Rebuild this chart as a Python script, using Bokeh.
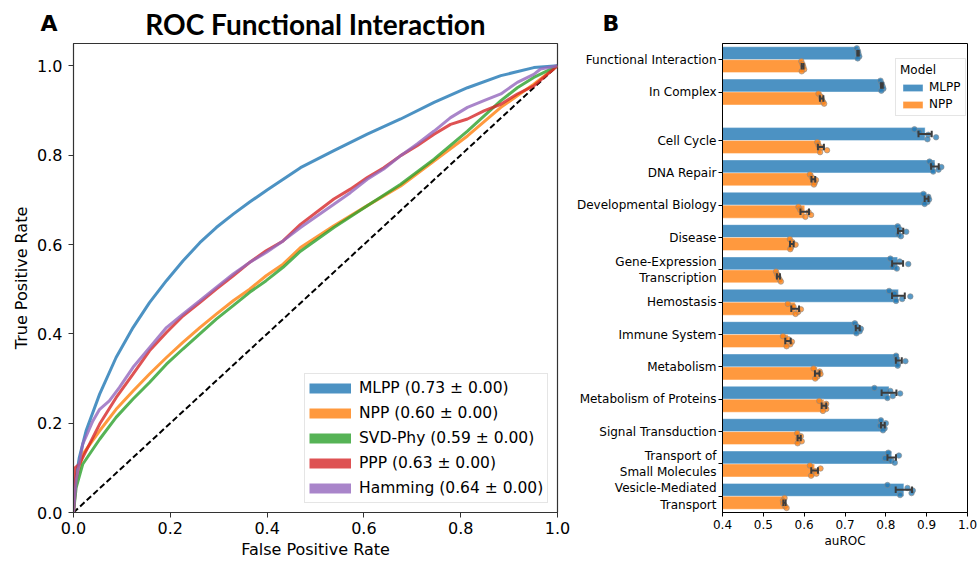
import numpy as np
from bokeh.plotting import figure
from bokeh.models import (Range1d, FixedTicker, Legend, LegendItem, Title,
                          PrintfTickFormatter)
from bokeh.layouts import row
from bokeh.embed import file_html
from bokeh.resources import INLINE

# ---------------- Panel A data: ROC curves ----------------
roc_labels = ["MLPP (0.73 \u00b1 0.00)", "NPP (0.60 \u00b1 0.00)", "SVD-Phy (0.59 \u00b1 0.00)",
              "PPP (0.63 \u00b1 0.00)", "Hamming (0.64 \u00b1 0.00)"]
roc_colors = ["#1f77b4", "#ff7f0e", "#2ca02c", "#d62728", "#9467bd"]

mlpp_fpr = [0, 0.004, 0.012, 0.026, 0.054, 0.088, 0.123, 0.157, 0.192, 0.226, 0.261, 0.295,
            0.330, 0.364, 0.40, 0.469, 0.538, 0.607, 0.676, 0.745, 0.814, 0.883, 0.951, 1.0]
mlpp_tpr = [0, 0.07, 0.123, 0.183, 0.265, 0.347, 0.414, 0.47, 0.519, 0.563, 0.604, 0.638,
            0.668, 0.695, 0.722, 0.772, 0.81, 0.847, 0.881, 0.918, 0.951, 0.978, 0.996, 1.0]

npp_fpr = [0, 0.0055, 0.019, 0.054, 0.088, 0.123, 0.157, 0.192, 0.226, 0.261, 0.295, 0.330,
           0.364, 0.398, 0.433, 0.469, 0.538, 0.607, 0.676, 0.745, 0.814, 0.883, 0.917, 0.951, 1.0]
npp_tpr = [0, 0.071, 0.13, 0.183, 0.231, 0.272, 0.31, 0.347, 0.381, 0.414, 0.444, 0.474,
           0.5, 0.53, 0.556, 0.593, 0.642, 0.687, 0.731, 0.787, 0.843, 0.907, 0.933, 0.959, 1.0]

svd_fpr = [0, 0.0055, 0.019, 0.054, 0.088, 0.123, 0.157, 0.192, 0.226, 0.261, 0.295, 0.330,
           0.364, 0.398, 0.433, 0.469, 0.538, 0.607, 0.676, 0.745, 0.814, 0.883, 0.917, 0.951, 1.0]
svd_tpr = [0, 0.056, 0.108, 0.164, 0.213, 0.254, 0.291, 0.332, 0.366, 0.4, 0.433, 0.463,
           0.493, 0.519, 0.549, 0.585, 0.638, 0.687, 0.735, 0.791, 0.854, 0.922, 0.951, 0.974, 1.0]

ppp_fpr = [0, 0.003, 0.012, 0.026, 0.054, 0.088, 0.123, 0.157, 0.192, 0.226, 0.261, 0.295,
           0.330, 0.364, 0.398, 0.433, 0.469, 0.538, 0.572, 0.607, 0.641, 0.676, 0.710, 0.745,
           0.779, 0.814, 0.848, 0.883, 0.917, 0.951, 0.979, 1.0]
ppp_tpr = [0, 0.1, 0.108, 0.138, 0.198, 0.257, 0.31, 0.362, 0.403, 0.44, 0.47, 0.5,
           0.53, 0.56, 0.586, 0.608, 0.645, 0.702, 0.724, 0.75, 0.772, 0.799, 0.821, 0.847,
           0.869, 0.881, 0.899, 0.914, 0.937, 0.955, 0.981, 1.0]

ham_fpr = [0, 0.0055, 0.019, 0.04, 0.054, 0.074, 0.095, 0.123, 0.157, 0.192, 0.226, 0.261,
           0.295, 0.330, 0.364, 0.398, 0.433, 0.469, 0.538, 0.572, 0.607, 0.641, 0.676, 0.710,
           0.745, 0.779, 0.814, 0.848, 0.883, 0.917, 0.951, 0.965, 1.0]
ham_tpr = [0, 0.071, 0.153, 0.205, 0.231, 0.25, 0.28, 0.325, 0.369, 0.414, 0.444, 0.474,
           0.504, 0.534, 0.56, 0.582, 0.608, 0.638, 0.69, 0.716, 0.746, 0.769, 0.799, 0.825,
           0.854, 0.884, 0.907, 0.922, 0.937, 0.963, 0.981, 0.993, 1.0]

roc_fpr = [mlpp_fpr, npp_fpr, svd_fpr, ppp_fpr, ham_fpr]
roc_tpr = [mlpp_tpr, npp_tpr, svd_tpr, ppp_tpr, ham_tpr]

# ---------------- Panel B data: auROC per category ----------------
categories = ["Functional Interaction", "In Complex", "Cell Cycle", "DNA Repair",
              "Developmental Biology", "Disease", "Gene-Expression\nTranscription",
              "Hemostasis", "Immune System", "Metabolism", "Metabolism of Proteins",
              "Signal Transduction", "Transport of\nSmall Molecules",
              "Vesicle-Mediated\nTransport"]
models = ["MLPP", "NPP"]
bar_colors = ["#1f77b4", "#ff7f0e"]

mlpp_points = [
    [0.729, 0.732, 0.733, 0.735, 0.731],
    [0.787, 0.790, 0.792, 0.794, 0.789],
    [0.870, 0.882, 0.904, 0.923, 0.902],
    [0.907, 0.913, 0.936, 0.929, 0.916],
    [0.892, 0.904, 0.906, 0.902, 0.895],
    [0.829, 0.834, 0.850, 0.831, 0.837],
    [0.811, 0.834, 0.855, 0.817, 0.827],
    [0.808, 0.821, 0.860, 0.840, 0.825],
    [0.724, 0.729, 0.739, 0.736, 0.728],
    [0.825, 0.827, 0.848, 0.830, 0.829],
    [0.772, 0.811, 0.835, 0.817, 0.804],
    [0.788, 0.800, 0.786, 0.797, 0.793],
    [0.806, 0.832, 0.798, 0.814, 0.822],
    [0.804, 0.853, 0.866, 0.863, 0.835],
]
npp_points = [
    [0.593, 0.596, 0.598, 0.600, 0.594],
    [0.635, 0.641, 0.643, 0.646, 0.649],
    [0.632, 0.635, 0.643, 0.656, 0.639],
    [0.614, 0.619, 0.629, 0.626, 0.624],
    [0.586, 0.590, 0.611, 0.617, 0.603],
    [0.565, 0.571, 0.579, 0.568, 0.566],
    [0.531, 0.534, 0.537, 0.540, 0.543],
    [0.560, 0.574, 0.592, 0.585, 0.579],
    [0.548, 0.561, 0.570, 0.566, 0.557],
    [0.623, 0.638, 0.640, 0.632, 0.627],
    [0.637, 0.654, 0.651, 0.654, 0.646],
    [0.583, 0.592, 0.586, 0.594, 0.584],
    [0.614, 0.640, 0.627, 0.630, 0.617],
    [0.552, 0.548, 0.549, 0.553, 0.557],
]

# ================= Panel A =================
p1 = figure(width=570, height=561, x_range=Range1d(0, 1), y_range=Range1d(0, 1.05),
            output_backend="svg", toolbar_location=None,
            min_border_left=73, min_border_right=13, min_border_top=43, min_border_bottom=49)
p1.title.text = "ROC Functional Interaction"
p1.title.text_font = "Lato"
p1.title.text_font_size = "28px"
p1.title.text_font_style = "bold"
p1.title.align = "center"
p1.title.text_color = "black"
p1.title.standoff = -78

tA = Title(text="A", align="left", offset=-33, standoff=15, text_font="DejaVu Sans",
           text_font_size="22px", text_font_style="bold", text_color="black")
p1.add_layout(tA, "above")

p1.xgrid.visible = False
p1.ygrid.visible = False
p1.outline_line_color = "#333333"
p1.outline_line_width = 1.2

for ax in (p1.xaxis[0], p1.yaxis[0]):
    ax.ticker = FixedTicker(ticks=[0, 0.2, 0.4, 0.6, 0.8, 1.0], minor_ticks=[])
    ax.formatter = PrintfTickFormatter(format="%.1f")
    ax.major_label_text_font = "DejaVu Sans"
    ax.major_label_text_font_size = "16px"
    ax.major_label_text_color = "black"
    ax.axis_label_text_font = "DejaVu Sans"
    ax.axis_label_text_font_size = "16px"
    ax.axis_label_text_font_style = "normal"
    ax.axis_label_text_color = "black"
    ax.major_tick_out = 5
    ax.major_tick_in = 0
    ax.minor_tick_out = 0
    ax.axis_line_color = "#333333"
    ax.major_tick_line_color = "#333333"
p1.xaxis[0].axis_label = "False Positive Rate"
p1.yaxis[0].axis_label = "True Positive Rate"
p1.xaxis[0].major_label_standoff = 4
p1.xaxis[0].axis_label_standoff = 3
p1.yaxis[0].major_label_standoff = 6
p1.yaxis[0].axis_label_standoff = 3

p1.line([0, 1], [0, 1], line_color="black", line_width=2, line_dash="6 3")

legend_items = []
for fpr, tpr, col, lab in zip(roc_fpr, roc_tpr, roc_colors, roc_labels):
    p1.line(fpr, tpr, line_color=col, line_width=3, line_alpha=0.8)
    dummy = p1.line([float("nan")], [float("nan")], line_color=col, line_width=10,
                    line_alpha=0.8)
    legend_items.append(LegendItem(label=lab, renderers=[dummy]))

leg1 = Legend(items=legend_items, location=(231, 9),
              label_text_font="DejaVu Sans", label_text_font_size="15.5px",
              label_text_color="black", glyph_width=42, glyph_height=20,
              label_height=20, spacing=5, padding=4, label_standoff=8, margin=0,
              border_line_color="#cccccc", border_line_width=1,
              background_fill_alpha=0.85)
p1.add_layout(leg1)

# ================= Panel B =================
cat_pos = [i if i < 2 else i + 0.5 for i in range(len(categories))]

p2 = figure(width=408, height=561, x_range=Range1d(0.4, 1.0), y_range=Range1d(14.0, -0.5),
            output_backend="svg", toolbar_location=None,
            min_border_left=152, min_border_right=11, min_border_top=43, min_border_bottom=49)
p2.title.text = "B"
p2.title.align = "left"
p2.title.offset = -120
p2.title.standoff = 15
p2.title.text_font = "DejaVu Sans"
p2.title.text_font_size = "22px"
p2.title.text_font_style = "bold"
p2.title.text_color = "black"
p2.xgrid.visible = False
p2.ygrid.visible = False
p2.outline_line_color = "black"
p2.outline_line_width = 1

offsets = [-0.2, 0.2]
jitter = [-0.15, -0.06, 0.02, 0.1, 0.16]
bar_renderers = []
for pts, col, off in zip([mlpp_points, npp_points], bar_colors, offsets):
    arr = np.array(pts)
    means = arr.mean(axis=1)
    half = 1.96 * arr.std(axis=1) / np.sqrt(arr.shape[1])
    ys = [c + off for c in cat_pos]
    r = p2.hbar(y=ys, left=0, right=means, height=0.4, fill_color=col, fill_alpha=0.8,
                line_color="white", line_alpha=0.4, line_width=1)
    bar_renderers.append(r)
    px, py = [], []
    for yc, row_pts in zip(ys, pts):
        for j, v in enumerate(row_pts):
            px.append(v)
            py.append(yc + jitter[j % len(jitter)])
    p2.scatter(px, py, size=5.5, fill_color=col, fill_alpha=0.75,
               line_color="#8a8a8a", line_width=0.6)
    lo = means - half
    hi = means + half
    p2.segment(x0=lo, y0=ys, x1=hi, y1=ys, line_color="#3c3c3c", line_width=2)
    p2.segment(x0=lo, y0=[y - 0.1 for y in ys], x1=lo, y1=[y + 0.1 for y in ys],
               line_color="#3c3c3c", line_width=2)
    p2.segment(x0=hi, y0=[y - 0.1 for y in ys], x1=hi, y1=[y + 0.1 for y in ys],
               line_color="#3c3c3c", line_width=2)

xa = p2.xaxis[0]
xa.ticker = FixedTicker(ticks=[0.4, 0.5, 0.6, 0.7, 0.8, 0.9, 1.0], minor_ticks=[])
xa.formatter = PrintfTickFormatter(format="%.1f")
xa.axis_label = "auROC"
ya = p2.yaxis[0]
ya.ticker = FixedTicker(ticks=cat_pos, minor_ticks=[])
ya.major_label_overrides = {float(pv): name for pv, name in zip(cat_pos, categories)}
for ax in (xa, ya):
    ax.major_label_text_font = "DejaVu Sans"
    ax.major_label_text_font_size = "12px"
    ax.major_label_text_color = "black"
    ax.axis_label_text_font = "DejaVu Sans"
    ax.axis_label_text_font_size = "12px"
    ax.axis_label_text_font_style = "normal"
    ax.axis_label_text_color = "black"
    ax.major_tick_out = 4
    ax.major_tick_in = 0
    ax.minor_tick_out = 0
    ax.axis_line_color = "black"
    ax.major_tick_line_color = "black"
xa.major_label_standoff = 3
xa.axis_label_standoff = 2
ya.major_label_standoff = 2

leg2 = Legend(items=[LegendItem(label=m, renderers=[r]) for m, r in zip(models, bar_renderers)],
              location=(173, 396), title="Model",
              title_text_font="DejaVu Sans", title_text_font_size="12px",
              title_text_font_style="normal", title_text_color="black", title_standoff=3,
              label_text_font="DejaVu Sans", label_text_font_size="12px",
              label_text_color="black", glyph_width=25, glyph_height=9,
              label_height=14, spacing=3, padding=4, label_standoff=4, margin=0,
              border_line_color="#cccccc", border_line_width=1, background_fill_alpha=0.85)
p2.add_layout(leg2)

layout = row(p1, p2)
open("out.html", "w").write(file_html(layout, INLINE))
